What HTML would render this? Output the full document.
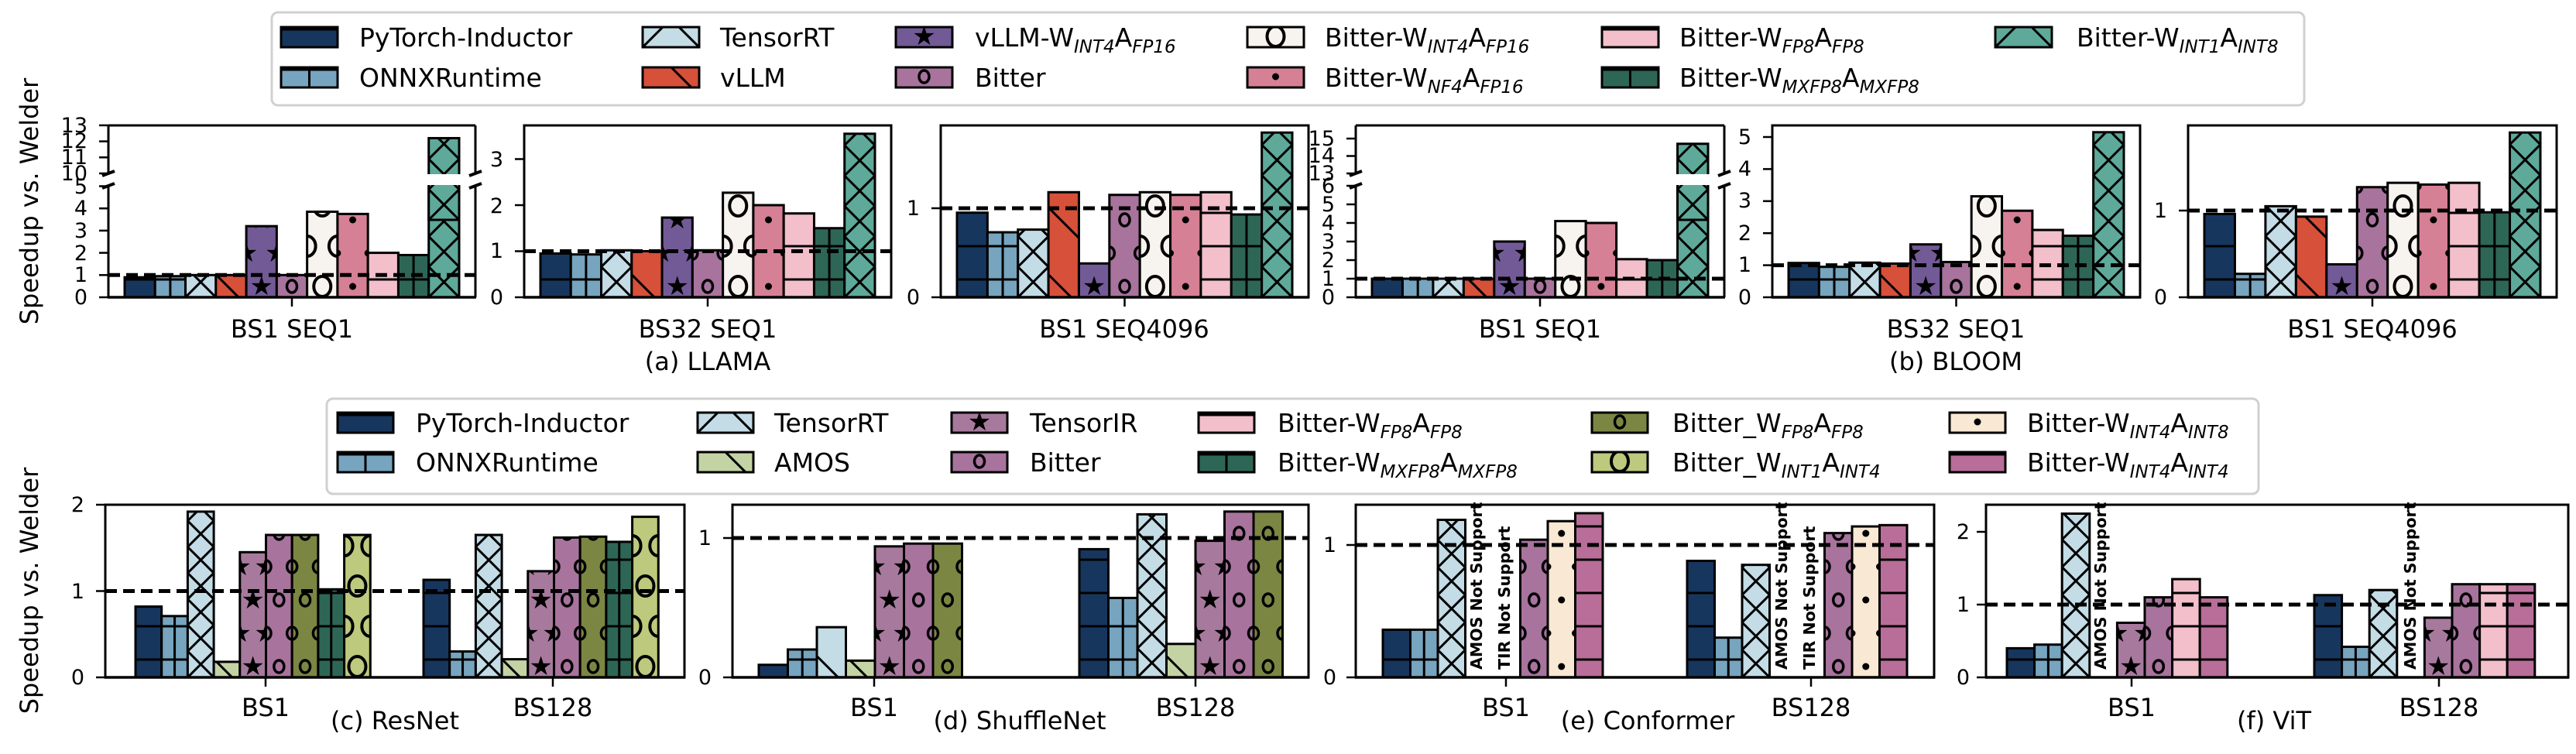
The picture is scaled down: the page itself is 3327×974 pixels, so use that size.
<!DOCTYPE html>
<html><head><meta charset="utf-8"><style>
html,body{margin:0;padding:0;background:#fff;}
svg{display:block;}
text{font-family:"DejaVu Sans","Liberation Sans",sans-serif;fill:#000;}
.lg{font-size:33px;}
.yt{font-size:27px;text-anchor:end;}
.xt{font-size:32px;text-anchor:middle;}
.red{font-size:20.5px;font-weight:bold;fill:#ff0000;}
</style></head><body>
<svg id="s" xmlns="http://www.w3.org/2000/svg" width="3327" height="974" viewBox="0 0 3327 974">
<defs id="defs"></defs>
<rect width="3327" height="974" fill="#fff"/>
<!-- legends -->
<rect x="351" y="16" width="2625" height="120" rx="8" fill="#fff" stroke="#d0d0d0" stroke-width="3"/>
<rect x="422" y="515" width="2495" height="123" rx="8" fill="#fff" stroke="#d0d0d0" stroke-width="3"/>
<g id="bars"></g>
<g class="lg">
<text x="464" y="60">PyTorch-Inductor</text>
<text x="464" y="112">ONNXRuntime</text>
<text x="930" y="60">TensorRT</text>
<text x="930" y="112">vLLM</text>
<text x="1259" y="60">vLLM-W<tspan font-size="23" font-style="italic" dy="8">INT4</tspan><tspan dy="-8">A</tspan><tspan font-size="23" font-style="italic" dy="8">FP16</tspan></text>
<text x="1259" y="112">Bitter</text>
<text x="1711" y="60">Bitter-W<tspan font-size="23" font-style="italic" dy="8">INT4</tspan><tspan dy="-8">A</tspan><tspan font-size="23" font-style="italic" dy="8">FP16</tspan></text>
<text x="1711" y="112">Bitter-W<tspan font-size="23" font-style="italic" dy="8">NF4</tspan><tspan dy="-8">A</tspan><tspan font-size="23" font-style="italic" dy="8">FP16</tspan></text>
<text x="2169" y="60">Bitter-W<tspan font-size="23" font-style="italic" dy="8">FP8</tspan><tspan dy="-8">A</tspan><tspan font-size="23" font-style="italic" dy="8">FP8</tspan></text>
<text x="2169" y="112">Bitter-W<tspan font-size="23" font-style="italic" dy="8">MXFP8</tspan><tspan dy="-8">A</tspan><tspan font-size="23" font-style="italic" dy="8">MXFP8</tspan></text>
<text x="2682" y="60">Bitter-W<tspan font-size="23" font-style="italic" dy="8">INT1</tspan><tspan dy="-8">A</tspan><tspan font-size="23" font-style="italic" dy="8">INT8</tspan></text>

<text x="537" y="558">PyTorch-Inductor</text>
<text x="537" y="609">ONNXRuntime</text>
<text x="1000" y="558">TensorRT</text>
<text x="1000" y="609">AMOS</text>
<text x="1330" y="558">TensorIR</text>
<text x="1330" y="609">Bitter</text>
<text x="1650" y="558">Bitter-W<tspan font-size="23" font-style="italic" dy="8">FP8</tspan><tspan dy="-8">A</tspan><tspan font-size="23" font-style="italic" dy="8">FP8</tspan></text>
<text x="1650" y="609">Bitter-W<tspan font-size="23" font-style="italic" dy="8">MXFP8</tspan><tspan dy="-8">A</tspan><tspan font-size="23" font-style="italic" dy="8">MXFP8</tspan></text>
<text x="2160" y="558">Bitter_W<tspan font-size="23" font-style="italic" dy="8">FP8</tspan><tspan dy="-8">A</tspan><tspan font-size="23" font-style="italic" dy="8">FP8</tspan></text>
<text x="2160" y="609">Bitter_W<tspan font-size="23" font-style="italic" dy="8">INT1</tspan><tspan dy="-8">A</tspan><tspan font-size="23" font-style="italic" dy="8">INT4</tspan></text>
<text x="2618" y="558">Bitter-W<tspan font-size="23" font-style="italic" dy="8">INT4</tspan><tspan dy="-8">A</tspan><tspan font-size="23" font-style="italic" dy="8">INT8</tspan></text>
<text x="2618" y="609">Bitter-W<tspan font-size="23" font-style="italic" dy="8">INT4</tspan><tspan dy="-8">A</tspan><tspan font-size="23" font-style="italic" dy="8">INT4</tspan></text>
</g>
<!-- y labels -->
<text transform="translate(49,260) rotate(-90)" font-size="32" text-anchor="middle">Speedup vs. Welder</text>
<text transform="translate(49,763) rotate(-90)" font-size="32" text-anchor="middle">Speedup vs. Welder</text>
<!-- top y ticks -->
<g class="yt">
<text x="113" y="393">0</text><text x="113" y="364">1</text><text x="113" y="336">2</text><text x="113" y="307">3</text><text x="113" y="278">4</text><text x="113" y="250">5</text>
<text x="113" y="233">10</text><text x="113" y="212">11</text><text x="113" y="191">12</text><text x="113" y="171">13</text>
<text x="650" y="393">0</text><text x="650" y="333">1</text><text x="650" y="275">2</text><text x="650" y="215">3</text>
<text x="1188" y="393">0</text><text x="1188" y="278">1</text>
<text x="1724" y="393">0</text><text x="1724" y="369">1</text><text x="1724" y="345">2</text><text x="1724" y="321">3</text><text x="1724" y="297">4</text><text x="1724" y="273">5</text><text x="1724" y="249">6</text>
<text x="1724" y="233">13</text><text x="1724" y="210">14</text><text x="1724" y="188">15</text>
<text x="2262" y="393">0</text><text x="2262" y="351">1</text><text x="2262" y="310">2</text><text x="2262" y="268">3</text><text x="2262" y="227">4</text><text x="2262" y="186">5</text>
<text x="2799" y="393">0</text><text x="2799" y="281">1</text>
<!-- bottom -->
<text x="109" y="884">0</text><text x="109" y="773">1</text><text x="109" y="661">2</text>
<text x="919" y="884">0</text><text x="919" y="704">1</text>
<text x="1726" y="884">0</text><text x="1726" y="713">1</text>
<text x="2544" y="884">0</text><text x="2544" y="790">1</text><text x="2544" y="696">2</text>
</g>
<g class="xt">
<text x="377" y="436">BS1 SEQ1</text>
<text x="914" y="436">BS32 SEQ1</text>
<text x="1452" y="436">BS1 SEQ4096</text>
<text x="1989" y="436">BS1 SEQ1</text>
<text x="2526" y="436">BS32 SEQ1</text>
<text x="3064" y="436">BS1 SEQ4096</text>
<text x="914" y="478">(a) LLAMA</text>
<text x="2526" y="478">(b) BLOOM</text>
<text x="343" y="925">BS1</text><text x="714" y="925">BS128</text>
<text x="1129" y="925">BS1</text><text x="1544" y="925">BS128</text>
<text x="1945" y="925">BS1</text><text x="2339" y="925">BS128</text>
<text x="2753" y="925">BS1</text><text x="3150" y="925">BS128</text>
<text x="510" y="942">(c) ResNet</text>
<text x="1317" y="942">(d) ShuffleNet</text>
<text x="2128" y="942">(e) Conformer</text>
<text x="2937" y="942">(f) ViT</text>
</g>
<g id="top"></g>
<g class="red">
<text transform="translate(1914,865) rotate(-90)">AMOS Not Support</text>
<text transform="translate(1950,865) rotate(-90)">TIR Not Support</text>
<text transform="translate(2308,865) rotate(-90)">AMOS Not Support</text>
<text transform="translate(2344,865) rotate(-90)">TIR Not Support</text>
<text transform="translate(2720,865) rotate(-90)">AMOS Not Support</text>
<text transform="translate(3120,865) rotate(-90)">AMOS Not Support</text>
</g>
</svg>
<script>
var NS='http://www.w3.org/2000/svg';
var G=document.getElementById('bars'),D=document.getElementById('defs'),T=document.getElementById('top');
function el(t,a,p){var e=document.createElementNS(NS,t);for(var k in a)e.setAttribute(k,a[k]);(p||G).appendChild(e);return e;}
var C={pt:'#17365e',ox:'#77a4be',trt:'#c3dce6',vllm:'#d6503a',vw4:'#725a97',bit:'#a8739d',bw4:'#f7f3ee',nf4:'#d68095',fp8:'#f2bfcb',mx:'#2e6656',i1:'#5ea99a',amos:'#c4d3a4',tir:'#a77a9d',olive:'#7b8643',yg:'#bdc97c',cream:'#f8e8d4',mauve:'#b86e98'};
var cid=0;
function hatch(g,x,w,yt,yb,h){
 var lw=3;
 if(h=='h'||h=='+'){for(var y=yb-23;y>yt+2;y-=43)el('line',{x1:x,x2:x+w,y1:y,y2:y,stroke:'#000','stroke-width':lw},g);
  if(h=='+')el('line',{x1:x+w/2,x2:x+w/2,y1:yt,y2:yb,stroke:'#000','stroke-width':lw},g);}
 else if(h=='x'){var P=2*w;for(var y=yb;y>yt-P;y-=P){el('polyline',{points:x+','+y+' '+(x+w)+','+(y-w)+' '+x+','+(y-P),fill:'none',stroke:'#000','stroke-width':lw},g);el('polyline',{points:(x+w)+','+y+' '+x+','+(y-w)+' '+(x+w)+','+(y-P),fill:'none',stroke:'#000','stroke-width':lw},g);}}
 else if(h=='\\'){for(var y=yb+10;y>yt-2*w;y-=2.2*w)el('line',{x1:x,y1:y-w,x2:x+w,y2:y,stroke:'#000','stroke-width':lw},g);}
 else {var sp=(h=='O')?52:43,r=0;
  for(var y=yb-14;y>yt-20;y-=sp,r++){var xs=(r%2==0)?[x+w/2]:[x,x+w];
   xs.forEach(function(cx){
    if(h=='*'){var t=el('text',{x:cx,y:y+11,'font-size':34,'text-anchor':'middle',fill:'#000'},g);t.textContent='\u2605';}
    else if(h=='o')el('ellipse',{cx:cx,cy:y,rx:6.5,ry:8,fill:'none',stroke:'#000','stroke-width':3.5},g);
    else if(h=='O')el('ellipse',{cx:cx,cy:y,rx:11,ry:13,fill:'none',stroke:'#000','stroke-width':4},g);
    else if(h=='.')el('circle',{cx:cx,cy:y,r:4.5,fill:'#000'},g);
   });}}
}
function bar(x,w,yt,yb,col,h,noTop,par){
 par=par||G;var id='c'+(cid++);
 var cp=el('clipPath',{id:id},D);el('rect',{x:x,y:yt,width:w,height:yb-yt},cp);
 el('rect',{x:x,y:yt,width:w,height:yb-yt,fill:col},par);
 var g=el('g',{'clip-path':'url(#'+id+')'},par);hatch(g,x,w,yt,yb,h);
 if(noTop)el('path',{d:'M'+x+' '+yt+'V'+yb+'H'+(x+w)+'V'+yt,fill:'none',stroke:'#000','stroke-width':3},par);
 else el('rect',{x:x,y:yt,width:w,height:yb-yt,fill:'none',stroke:'#000','stroke-width':3},par);
}
var TS=[['pt','h'],['ox','+'],['trt','x'],['vllm','\\'],['vw4','*'],['bit','o'],['bw4','O'],['nf4','.'],['fp8','h'],['mx','+'],['i1','x']];
function axisLine(x1,y1,x2,y2,w){el('line',{x1:x1,y1:y1,x2:x2,y2:y2,stroke:'#000','stroke-width':w||3},T);}
function dash(x0,x1,y){el('line',{x1:x0,x2:x1,y1:y,y2:y,stroke:'#000','stroke-width':5,'stroke-dasharray':'15 8'},T);}
function ytick(x0,y){axisLine(x0-12,y,x0,y,2.5);}
// top plots
var P=[
 {x0:140,x1:614,br:1,s:28.7,hb:224,hv:10,hs:20.7,lt:[0,1,2,3,4,5],ht:[10,11,12,13],v:[0.9,0.95,1.0,1.0,3.2,1.0,3.85,3.75,2.0,1.9,12.2]},
 {x0:677,x1:1151,s:59.5,lt:[0,1,2,3],v:[0.95,0.93,1.02,1.0,1.73,1.02,2.27,2.0,1.82,1.5,3.55]},
 {x0:1215,x1:1690,s:115,lt:[0,1],v:[0.95,0.73,0.76,1.18,0.38,1.15,1.18,1.15,1.18,0.93,1.85]},
 {x0:1751,x1:2227,br:1,s:24,hb:224,hv:13,hs:22.5,lt:[0,1,2,3,4,5,6],ht:[13,14,15],v:[1,1,1,1,3.0,1,4.1,4.0,2.05,2.0,14.7]},
 {x0:2289,x1:2764,s:41.4,lt:[0,1,2,3,4,5],v:[1.07,0.95,1.08,1.05,1.65,1.1,3.15,2.7,2.1,1.92,5.15]},
 {x0:2826,x1:3302,s:112,lt:[0,1],v:[0.96,0.27,1.05,0.93,0.38,1.27,1.32,1.3,1.32,0.98,1.9]}];
P.forEach(function(p){
 var w=(p.x1-p.x0-42)/11,yb=384;
 p.v.forEach(function(v,i){var x=p.x0+21+i*w,c=C[TS[i][0]],h=TS[i][1];
  if(p.br&&v>6){bar(x,w,240,yb,c,h,true);bar(x,w,224-(v-p.hv)*p.hs,224+60,c,h,false);}
  else bar(x,w,yb-v*p.s,yb,c,h,false);});
 if(p.br){
  el('rect',{x:p.x0-2,y:225,width:p.x1-p.x0+4,height:14,fill:'#fff'},T);
  axisLine(p.x0,162,p.x1,162);axisLine(p.x0,162,p.x0,224);axisLine(p.x1,162,p.x1,224);
  axisLine(p.x0,240,p.x0,384);axisLine(p.x1,240,p.x1,384);
  [[p.x0,224],[p.x0,240],[p.x1,224],[p.x1,240]].forEach(function(q){axisLine(q[0]-8,q[1]+3,q[0]+8,q[1]-3,4);});
  p.ht.forEach(function(t){ytick(p.x0,224-(t-p.hv)*p.hs);});
 } else {el('rect',{x:p.x0,y:162,width:p.x1-p.x0,height:222,fill:'none',stroke:'#000','stroke-width':3},T);}
 axisLine(p.x0-1,384,p.x1+1,384,3.5);
 p.lt.forEach(function(t){ytick(p.x0,384-t*p.s);});
 dash(p.x0,p.x1,384-p.s);
 axisLine((p.x0+p.x1)/2,384,(p.x0+p.x1)/2,396,2.5);
});
// bottom plots
var B=[
 {x0:136,x1:884,s:111.5,ticks:[0,1,2],xt:[343,714],w:33.7,g:[
  [175,[['pt','h',0.82],['ox','+',0.71],['trt','x',1.92],['amos','\\',0.18],['tir','*',1.45],['bit','o',1.65],['olive','o',1.65],['mx','+',1.02],['yg','O',1.65]]],
  [547,[['pt','h',1.13],['ox','+',0.3],['trt','x',1.65],['amos','\\',0.21],['tir','*',1.23],['bit','o',1.62],['olive','o',1.63],['mx','+',1.57],['yg','O',1.86]]]]},
 {x0:946,x1:1690,s:180,ticks:[0,1],xt:[1129,1544],w:37.5,g:[
  [980,[['pt','h',0.09],['ox','+',0.2],['trt','\\',0.36],['amos','\\',0.12],['tir','*',0.94],['bit','o',0.96],['olive','o',0.96]]],
  [1394,[['pt','h',0.92],['ox','+',0.57],['trt','x',1.17],['amos','\\',0.24],['tir','*',0.98],['bit','o',1.19],['olive','o',1.19]]]]},
 {x0:1751,x1:2498,s:171,ticks:[0,1],xt:[1945,2339],w:35.5,g:[
  [1786,[['pt','h',0.36],['ox','+',0.36],['trt','x',1.19],null,null,['bit','o',1.04],['cream','.',1.18],['mauve','h',1.24]]],
  [2179,[['pt','h',0.88],['ox','+',0.3],['trt','x',0.85],null,null,['bit','o',1.09],['cream','.',1.14],['mauve','h',1.15]]]]},
 {x0:2565,x1:3317,s:94,ticks:[0,1,2],xt:[2753,3150],w:35.6,g:[
  [2592,[['pt','h',0.4],['ox','+',0.45],['trt','x',2.25],null,['tir','*',0.75],['bit','o',1.1],['fp8','h',1.35],['mauve','h',1.1]]],
  [2989,[['pt','h',1.13],['ox','+',0.42],['trt','x',1.2],null,['tir','*',0.82],['bit','o',1.28],['fp8','h',1.28],['mauve','h',1.28]]]]}];
B.forEach(function(p){var yb=875;
 p.g.forEach(function(gr){gr[1].forEach(function(b,i){if(!b)return;bar(gr[0]+i*p.w,p.w,yb-b[2]*p.s,yb,C[b[0]],b[1],false);});});
 el('rect',{x:p.x0,y:652,width:p.x1-p.x0,height:223,fill:'none',stroke:'#000','stroke-width':3},T);
 axisLine(p.x0-1,875,p.x1+1,875,3.5);
 p.ticks.forEach(function(t){ytick(p.x0,875-t*p.s);});
 dash(p.x0,p.x1,875-p.s);
 p.xt.forEach(function(x){axisLine(x,875,x,887,2.5);});
});
// legend patches
function patch(x,y,w,col,h){bar(x,w,y-13,y+13,C[col],h,false,T);}
[[363,48,'pt','h'],[363,100,'ox','+'],[830,48,'trt','x'],[830,100,'vllm','\\'],[1157,48,'vw4','*'],[1157,100,'bit','o'],[1611,48,'bw4','O'],[1611,100,'nf4','.'],[2069,48,'fp8','h'],[2069,100,'mx','+'],[2577,48,'i1','x']].forEach(function(a){patch(a[0],a[1],73,a[2],a[3]);});
[[436,546,'pt','h'],[436,597,'ox','+'],[901,546,'trt','x'],[901,597,'amos','\\'],[1229,546,'tir','*'],[1229,597,'bit','o'],[1548,546,'fp8','h'],[1548,597,'mx','+'],[2056,546,'olive','o'],[2056,597,'yg','O'],[2518,546,'cream','.'],[2518,597,'mauve','h']].forEach(function(a){patch(a[0],a[1],72,a[2],a[3]);});
</script>
</body></html>
